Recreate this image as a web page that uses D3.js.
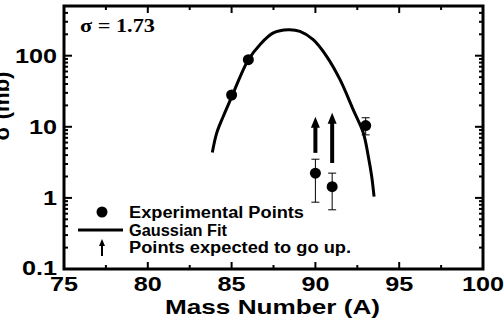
<!DOCTYPE html>
<html><head><meta charset="utf-8">
<script src="https://cdn.jsdelivr.net/npm/d3@7"></script>
<style>body{margin:0;background:#fff}svg{display:block}</style>
</head><body>
<svg id="c" width="504" height="326"></svg>
<script>
// data
const massNumbers = [85, 86, 90, 91, 93];
const crossSections = [28, 88, 2.23, 1.44, 10.4];
const errLow = [null, null, 0.87, 0.68, 7.7];
const errHigh = [null, null, 3.5, 2.23, 13.4];
const arrowMass = [90, 91];
const arrowFrom = [4.3, 3.1];
const arrowTo = [13.8, 15.7];
const fitX = [83.85, 84.11, 84.5, 85.01, 85.5, 86.0, 86.69, 87.49, 88.38, 89.08, 89.87, 90.67, 91.47, 92.26, 92.86, 93.16, 93.36, 93.5];
const fitY = [4.35, 8.15, 13.96, 26.5, 50, 87.9, 143, 209, 232, 220, 168, 98, 46, 17.3, 8.2, 3.8, 2.0, 1.04];
const xTicks = [75, 80, 85, 90, 95, 100];
const yTicks = [0.1, 1, 10, 100];
const yTickLabels = ["0.1", "1", "10", "100"];
const legendLabels = ["Experimental Points", "Gaussian Fit", "Points expected to go up."];
const sigmaText = "σ = 1.73";

const svg = d3.select("#c");
const L = 64, R = 483, T = 6, B = 269;
const x = d3.scaleLinear().domain([75, 100]).range([L, R]);
const y = d3.scaleLog().domain([0.1, 500]).range([B, T]);
const font = "'Liberation Sans', Arial, sans-serif";

const xMinor = d3.range(77.5, 100, 5);
const yMinor = [];
[0.1, 1, 10, 100].forEach(d => { for (let k = 2; k <= 9; k++) { const v = d * k; if (v <= 500) yMinor.push(v); } });

const g = svg.append("g");
const tickStyle = s => s.attr("stroke", "#000").attr("stroke-width", 2);
xTicks.forEach(t => {
  if (t === 75 || t === 100) return;
  tickStyle(g.append("line").attr("x1", x(t)).attr("x2", x(t)).attr("y1", B).attr("y2", B - 7));
  tickStyle(g.append("line").attr("x1", x(t)).attr("x2", x(t)).attr("y1", T).attr("y2", T + 7));
});
xMinor.forEach(t => {
  tickStyle(g.append("line").attr("x1", x(t)).attr("x2", x(t)).attr("y1", B).attr("y2", B - 4));
  tickStyle(g.append("line").attr("x1", x(t)).attr("x2", x(t)).attr("y1", T).attr("y2", T + 4));
});
yTicks.forEach(t => {
  if (t === 0.1) return;
  tickStyle(g.append("line").attr("x1", L).attr("x2", L + 8).attr("y1", y(t)).attr("y2", y(t)));
  tickStyle(g.append("line").attr("x1", R).attr("x2", R - 8).attr("y1", y(t)).attr("y2", y(t)));
});
yMinor.forEach(t => {
  tickStyle(g.append("line").attr("x1", L).attr("x2", L + 4).attr("y1", y(t)).attr("y2", y(t)));
  tickStyle(g.append("line").attr("x1", R).attr("x2", R - 4).attr("y1", y(t)).attr("y2", y(t)));
});
g.append("rect").attr("x", L).attr("y", T).attr("width", R - L).attr("height", B - T)
  .attr("fill", "none").attr("stroke", "#000").attr("stroke-width", 3);

// tick labels (horizontally stretched like the reference)
xTicks.forEach(t => {
  g.append("text").attr("transform", `translate(${x(t)},${B + 22}) scale(1.2,1)`).attr("text-anchor", "middle")
    .attr("font-family", font).attr("font-weight", "bold").attr("font-size", 21).text(t);
});
yTicks.forEach((t, i) => {
  g.append("text").attr("transform", `translate(${L - 7},${y(t) + (t === 0.1 ? 6 : 7)}) scale(1.2,1)`).attr("text-anchor", "end")
    .attr("font-family", font).attr("font-weight", "bold").attr("font-size", 21).text(yTickLabels[i]);
});
// axis titles
g.append("text").attr("x", 165).attr("y", 314).attr("textLength", 215).attr("lengthAdjust", "spacingAndGlyphs")
  .attr("font-family", font).attr("font-weight", "bold").attr("font-size", 21).text("Mass Number (A)");
g.append("text").attr("transform", "translate(9,106) rotate(-90)").attr("text-anchor", "middle")
  .attr("font-family", font).attr("font-weight", "bold").attr("font-size", 22).text("σ (mb)");

// fit curve
const fit = fitX.map((d, i) => [d, fitY[i]]);
g.append("path").datum(fit)
  .attr("d", d3.line().x(d => x(d[0])).y(d => y(d[1])).curve(d3.curveCatmullRom))
  .attr("fill", "none").attr("stroke", "#000").attr("stroke-width", 3);

// error bars
massNumbers.forEach((m, i) => {
  if (errLow[i] == null) return;
  const cx = x(m);
  g.append("line").attr("x1", cx).attr("x2", cx).attr("y1", y(errLow[i])).attr("y2", y(errHigh[i])).attr("stroke", "#000").attr("stroke-width", 1);
  [errLow[i], errHigh[i]].forEach(v => g.append("line").attr("x1", cx - 4).attr("x2", cx + 4).attr("y1", y(v)).attr("y2", y(v)).attr("stroke", "#000").attr("stroke-width", 1));
});
massNumbers.forEach((m, i) => {
  g.append("circle").attr("cx", x(m)).attr("cy", y(crossSections[i])).attr("r", 5.5).attr("fill", "#000");
});
function arrow(x0, y0, y1, headW, headH, sw) {
  g.append("line").attr("x1", x0).attr("x2", x0).attr("y1", y0).attr("y2", y1 + headH - 1)
    .attr("stroke", "#000").attr("stroke-width", sw);
  g.append("path").attr("d", `M${x0 - headW / 2},${y1 + headH} L${x0},${y1} L${x0 + headW / 2},${y1 + headH} Z`).attr("fill", "#000");
}
arrowMass.forEach((m, i) => arrow(x(m), y(arrowFrom[i]), y(arrowTo[i]), 9, 11, 4));

// sigma text
g.append("text").attr("x", 80).attr("y", 32).attr("textLength", 75).attr("lengthAdjust", "spacingAndGlyphs")
  .attr("font-family", "'Liberation Serif', 'Times New Roman', serif")
  .attr("font-weight", "bold").attr("font-size", 19).text(sigmaText);

// legend
const lx = 129, ly = [212, 230, 247];
const legendWidths = [175, 98, 222];
g.append("circle").attr("cx", 102).attr("cy", ly[0]).attr("r", 5.5).attr("fill", "#000");
g.append("line").attr("x1", 78).attr("x2", 123).attr("y1", ly[1]).attr("y2", ly[1]).attr("stroke", "#000").attr("stroke-width", 3);
arrow(102, ly[2] + 9, ly[2] - 8, 6, 7, 2);
legendLabels.forEach((t, i) => {
  g.append("text").attr("x", lx).attr("y", ly[i] + 6).attr("textLength", legendWidths[i]).attr("lengthAdjust", "spacingAndGlyphs")
    .attr("font-family", font).attr("font-weight", "bold").attr("font-size", 16).text(t);
});
</script>
</body></html>
